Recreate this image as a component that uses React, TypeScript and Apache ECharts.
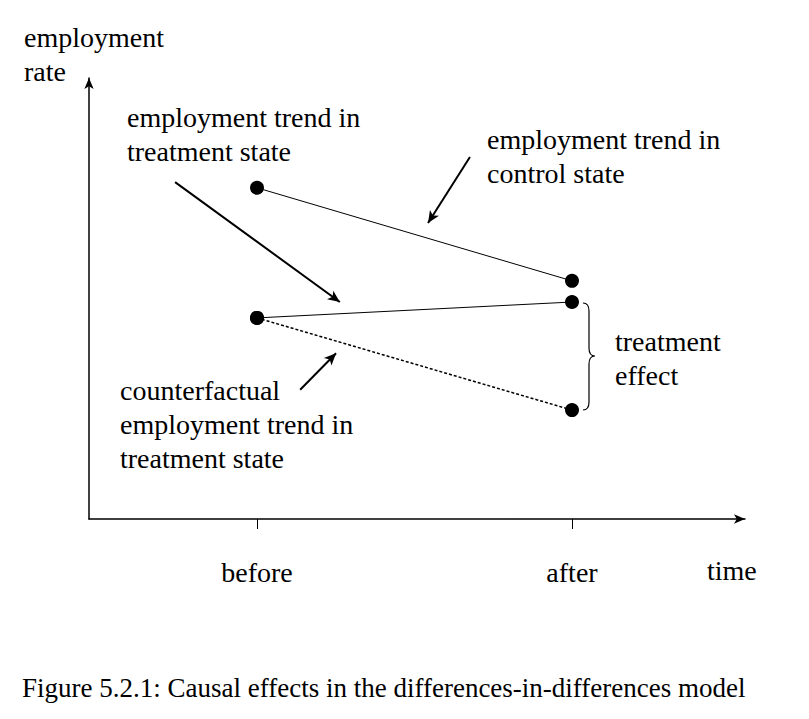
import React, { useEffect, useRef } from 'react';
import * as echarts from 'echarts';

// time positions: before = 1, after = 2
const timeTicks = [1, 2];
const timeLabels = ['before', 'after'];

// employment rate (arbitrary units 0-100)
const controlTrend = [[1, 75.1], [2, 54.0]];
const treatmentTrend = [[1, 45.6], [2, 49.2]];
const counterfactualTrend = [[1, 45.6], [2, 24.7]];

// annotation arrows [from, to]
const annotationArrows = [
  [[0.74, 76.4], [1.263, 49.2]],
  [[1.676, 82.1], [1.543, 67.1]],
  [[1.137, 29.3], [1.251, 37.6]],
];

const serif = 'Liberation Serif';
const black = '#000';

export default function App() {
  const chartRef = useRef<HTMLDivElement>(null);

  useEffect(() => {
    if (!chartRef.current) return;
    echarts.graphic.registerShape(
      'brace',
      echarts.graphic.extendPath(
        'M0,0 Q6,0 6,8 L6,45 Q6,53 12,53 Q6,53 6,61 L6,99 Q6,107 0,107',
        {}
      )
    );
    const chart = echarts.init(chartRef.current, null, { renderer: 'svg' });

    const textStyle = (text: string) => ({
      text,
      font: `28px "${serif}"`,
      fill: black,
      lineHeight: 34,
    });

    const option: echarts.EChartsOption = {
      animation: false,
      grid: { left: 89, top: 78, width: 656, height: 441 },
      xAxis: {
        type: 'value',
        min: 1 - 168 / 315,
        max: 2 + 173 / 315,
        splitLine: { show: false },
        axisLine: {
          lineStyle: { color: black, width: 1.5 },
          symbol: ['none', 'arrow'],
          symbolSize: [7, 11],
        },
        axisTick: {
          show: true,
          customValues: timeTicks,
          length: 10,
          inside: false,
          lineStyle: { color: black },
        },
        axisLabel: {
          customValues: timeTicks,
          formatter: (v: number) => timeLabels[timeTicks.indexOf(v)] ?? '',
          margin: 39,
          fontFamily: serif,
          fontSize: 28,
          color: black,
        },
      },
      yAxis: {
        type: 'value',
        min: 0,
        max: 100,
        splitLine: { show: false },
        axisTick: { show: false },
        axisLabel: { show: false },
        axisLine: {
          show: true,
          lineStyle: { color: black, width: 1.5 },
          symbol: ['none', 'arrow'],
          symbolSize: [7, 11],
        },
      },
      series: [
        {
          type: 'line',
          data: controlTrend,
          symbol: 'circle',
          symbolSize: 14,
          itemStyle: { color: black },
          lineStyle: { color: black, width: 1 },
        },
        {
          type: 'line',
          data: counterfactualTrend,
          symbol: 'circle',
          symbolSize: 14,
          itemStyle: { color: black },
          lineStyle: { color: black, width: 1.5, type: [3, 2] },
        },
        {
          type: 'line',
          data: treatmentTrend,
          symbol: 'circle',
          symbolSize: 14,
          itemStyle: { color: black },
          lineStyle: { color: black, width: 1 },
          markLine: {
            silent: true,
            symbol: ['none', 'arrow'],
            symbolSize: [8, 12],
            label: { show: false },
            lineStyle: { color: black, width: 2, type: 'solid' },
            data: annotationArrows.map(([a, b]) => [{ coord: a }, { coord: b }]) as any,
          },
        },
      ],
      graphic: [
        { type: 'text', left: 24, top: 20, style: textStyle('employment\nrate') },
        { type: 'text', left: 127, top: 100, style: textStyle('employment trend in\ntreatment state') },
        { type: 'text', left: 487, top: 122, style: textStyle('employment trend in\ncontrol state') },
        { type: 'text', left: 615, top: 324, style: textStyle('treatment\neffect') },
        { type: 'text', left: 120, top: 373, style: textStyle('counterfactual\nemployment trend in\ntreatment state') },
        { type: 'text', left: 707, top: 553, style: textStyle('time') },
        {
          type: 'text',
          left: 22,
          top: 674,
          style: {
            text: 'Figure 5.2.1: Causal effects in the differences-in-differences model',
            font: `27px "${serif}"`,
            fill: black,
          },
        },
        {
          type: 'brace' as any,
          x: 583,
          y: 303,
          style: { stroke: black, lineWidth: 1.2, fill: 'none' },
        } as any,
      ],
    };

    chart.setOption(option);
    return () => chart.dispose();
  }, []);

  return (
    <div
      ref={chartRef}
      style={{ position: 'fixed', left: 0, top: 0, width: 809, height: 719, background: '#fff' }}
    />
  );
}
